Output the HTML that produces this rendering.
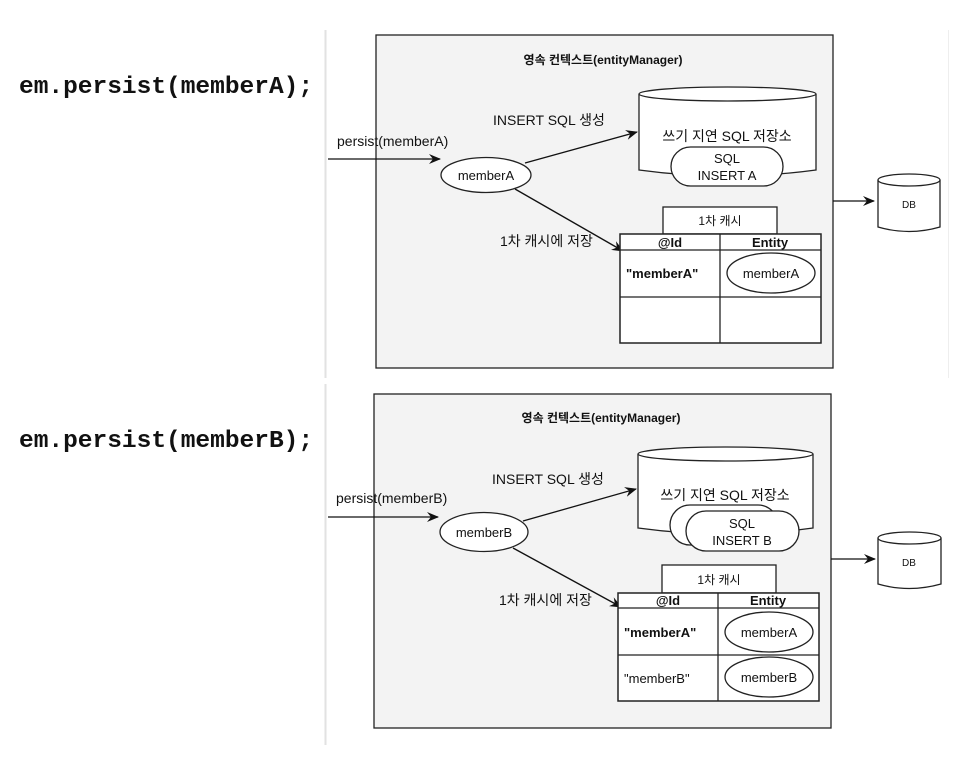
<!DOCTYPE html>
<html><head><meta charset="utf-8"><style>
body{margin:0;background:#fff;}
svg{display:block;}
text{font-family:"Liberation Sans","Noto Sans CJK KR",sans-serif;fill:#111;}
.code{font-family:"Liberation Mono",monospace;font-weight:bold;font-size:24.5px;}
</style></head><body>
<svg width="961" height="760" viewBox="0 0 961 760" xmlns="http://www.w3.org/2000/svg">
<defs><marker id="ar" markerWidth="12" markerHeight="10" refX="11" refY="5" orient="auto" markerUnits="userSpaceOnUse"><path d="M0,0 L12,5 L0,10 L4,5 Z" fill="#111"/></marker></defs>
<line x1="325.5" y1="30" x2="325.5" y2="378" stroke="#e2e2e2" stroke-width="2"/>
<line x1="325.5" y1="384" x2="325.5" y2="745" stroke="#e2e2e2" stroke-width="2"/>
<line x1="948.5" y1="30" x2="948.5" y2="378" stroke="#eee" stroke-width="1"/>
<text class="code" x="19" y="93">em.persist(memberA);</text>
<text class="code" x="19" y="447">em.persist(memberB);</text>

<!-- TOP PANEL -->
<rect x="376" y="35" width="457" height="333" fill="#f3f3f3" stroke="#222" stroke-width="1.3"/>
<text x="603" y="64" font-size="12" font-weight="bold" text-anchor="middle">영속 컨텍스트(entityManager)</text>
<path d="M639,94 L639,170 Q727,182 816,170 L816,94" fill="#fff" stroke="#222" stroke-width="1.3"/>
<ellipse cx="727.5" cy="94" rx="88.5" ry="7" fill="#fff" stroke="#222" stroke-width="1.3"/>
<text x="727" y="141" font-size="14" text-anchor="middle">쓰기 지연 SQL 저장소</text>
<rect x="671" y="147" width="112" height="39" rx="19.5" fill="#fff" stroke="#222" stroke-width="1.3"/>
<text x="727" y="163" font-size="13" text-anchor="middle">SQL</text>
<text x="727" y="180" font-size="13" text-anchor="middle">INSERT A</text>
<line x1="328" y1="159" x2="440" y2="159" stroke="#111" stroke-width="1.3" marker-end="url(#ar)"/>
<text x="337" y="146" font-size="14">persist(memberA)</text>
<ellipse cx="486" cy="175" rx="45" ry="17.5" fill="#fff" stroke="#222" stroke-width="1.3"/>
<text x="486" y="180" font-size="13" text-anchor="middle">memberA</text>
<text x="493" y="125" font-size="14">INSERT SQL 생성</text>
<line x1="525" y1="163" x2="637" y2="132" stroke="#111" stroke-width="1.3" marker-end="url(#ar)"/>
<line x1="515" y1="189" x2="623" y2="251" stroke="#111" stroke-width="1.3" marker-end="url(#ar)"/>
<text x="500" y="246" font-size="14">1차 캐시에 저장</text>
<rect x="663" y="207" width="114" height="27" fill="#fff" stroke="#222" stroke-width="1.3"/>
<text x="720" y="225" font-size="12" text-anchor="middle">1차 캐시</text>
<rect x="620" y="234" width="201" height="109" fill="#fff" stroke="#222" stroke-width="1.5"/>
<line x1="620" y1="250" x2="821" y2="250" stroke="#222" stroke-width="1.3"/>
<line x1="620" y1="297" x2="821" y2="297" stroke="#222" stroke-width="1.3"/>
<line x1="720" y1="234" x2="720" y2="343" stroke="#222" stroke-width="1.3"/>
<text x="670" y="247" font-size="13" font-weight="bold" text-anchor="middle">@Id</text>
<text x="770" y="247" font-size="13" font-weight="bold" text-anchor="middle">Entity</text>
<text x="626" y="278" font-size="13" font-weight="bold">"memberA"</text>
<ellipse cx="771" cy="273" rx="44" ry="20" fill="#fff" stroke="#222" stroke-width="1.3"/>
<text x="771" y="278" font-size="13" text-anchor="middle">memberA</text>
<line x1="833" y1="201" x2="874" y2="201" stroke="#111" stroke-width="1.3" marker-end="url(#ar)"/>
<path d="M878,180 L878,227 Q909,236 940,227 L940,180" fill="#fff" stroke="#222" stroke-width="1.3"/>
<ellipse cx="909" cy="180" rx="31" ry="6" fill="#fff" stroke="#222" stroke-width="1.3"/>
<text x="909" y="208" font-size="10" text-anchor="middle">DB</text>

<!-- BOTTOM PANEL -->
<rect x="374" y="394" width="457" height="334" fill="#f3f3f3" stroke="#222" stroke-width="1.3"/>
<text x="601" y="422" font-size="12" font-weight="bold" text-anchor="middle">영속 컨텍스트(entityManager)</text>
<path d="M638,454 L638,528 Q726,540 813,528 L813,454" fill="#fff" stroke="#222" stroke-width="1.3"/>
<ellipse cx="725.5" cy="454" rx="87.5" ry="7" fill="#fff" stroke="#222" stroke-width="1.3"/>
<text x="725" y="500" font-size="14" text-anchor="middle">쓰기 지연 SQL 저장소</text>
<rect x="670" y="505" width="108" height="40" rx="20" fill="#fff" stroke="#222" stroke-width="1.3"/>
<rect x="686" y="511" width="113" height="40" rx="20" fill="#fff" stroke="#222" stroke-width="1.3"/>
<text x="742" y="528" font-size="13" text-anchor="middle">SQL</text>
<text x="742" y="545" font-size="13" text-anchor="middle">INSERT B</text>
<line x1="328" y1="517" x2="438" y2="517" stroke="#111" stroke-width="1.3" marker-end="url(#ar)"/>
<text x="336" y="503" font-size="14">persist(memberB)</text>
<ellipse cx="484" cy="532" rx="44" ry="19.5" fill="#fff" stroke="#222" stroke-width="1.3"/>
<text x="484" y="537" font-size="13" text-anchor="middle">memberB</text>
<text x="492" y="484" font-size="14">INSERT SQL 생성</text>
<line x1="523" y1="521" x2="636" y2="489" stroke="#111" stroke-width="1.3" marker-end="url(#ar)"/>
<line x1="513" y1="548" x2="621" y2="607" stroke="#111" stroke-width="1.3" marker-end="url(#ar)"/>
<text x="499" y="605" font-size="14">1차 캐시에 저장</text>
<rect x="662" y="565" width="114" height="28" fill="#fff" stroke="#222" stroke-width="1.3"/>
<text x="719" y="584" font-size="12" text-anchor="middle">1차 캐시</text>
<rect x="618" y="593" width="201" height="108" fill="#fff" stroke="#222" stroke-width="1.5"/>
<line x1="618" y1="608" x2="819" y2="608" stroke="#222" stroke-width="1.3"/>
<line x1="618" y1="655" x2="819" y2="655" stroke="#222" stroke-width="1.3"/>
<line x1="718" y1="593" x2="718" y2="701" stroke="#222" stroke-width="1.3"/>
<text x="668" y="605" font-size="13" font-weight="bold" text-anchor="middle">@Id</text>
<text x="768" y="605" font-size="13" font-weight="bold" text-anchor="middle">Entity</text>
<text x="624" y="637" font-size="13" font-weight="bold">"memberA"</text>
<text x="624" y="683" font-size="13">"memberB"</text>
<ellipse cx="769" cy="632" rx="44" ry="20" fill="#fff" stroke="#222" stroke-width="1.3"/>
<text x="769" y="637" font-size="13" text-anchor="middle">memberA</text>
<ellipse cx="769" cy="677" rx="44" ry="20" fill="#fff" stroke="#222" stroke-width="1.3"/>
<text x="769" y="682" font-size="13" text-anchor="middle">memberB</text>
<line x1="831" y1="559" x2="875" y2="559" stroke="#111" stroke-width="1.3" marker-end="url(#ar)"/>
<path d="M878,538 L878,584 Q909,593 941,584 L941,538" fill="#fff" stroke="#222" stroke-width="1.3"/>
<ellipse cx="909.5" cy="538" rx="31.5" ry="6" fill="#fff" stroke="#222" stroke-width="1.3"/>
<text x="909" y="566" font-size="10" text-anchor="middle">DB</text>
</svg>
</body></html>
